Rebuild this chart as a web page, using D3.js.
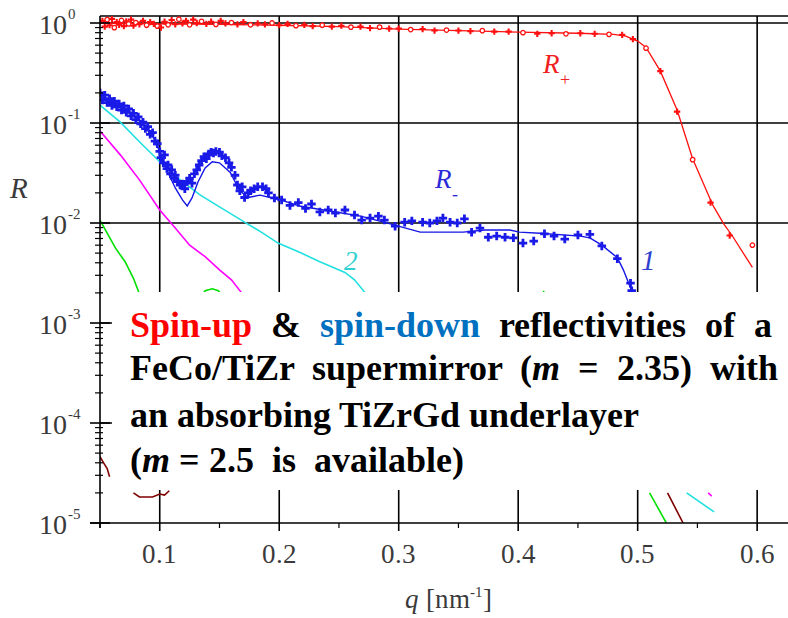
<!DOCTYPE html>
<meta charset="utf-8">
<style>
@font-face { font-family: "CapSerif"; src: local("Liberation Serif"), local("LiberationSerif"), local("Liberation Serif Regular"); font-weight: normal; font-style: normal; }
@font-face { font-family: "CapSerif"; src: local("Liberation Serif Bold"), local("LiberationSerif-Bold"); font-weight: bold; font-style: normal; }
@font-face { font-family: "CapSerif"; src: local("Liberation Serif Italic"), local("LiberationSerif-Italic"); font-weight: normal; font-style: italic; }
@font-face { font-family: "CapSerif"; src: local("Liberation Serif Bold Italic"), local("LiberationSerif-BoldItalic"); font-weight: bold; font-style: italic; }
body { margin: 0; }
</style>
<svg width="788" height="618"></svg>
<script src="https://d3js.org/d3.v7.min.js"></script>
<script>
// axis ticks
var xTicks = [0.1, 0.2, 0.3, 0.4, 0.5, 0.6];
var xMinor = [0.05, 0.15, 0.25, 0.35, 0.45, 0.55];
var decades = [0, -1, -2, -3, -4, -5];

// R+ measured points [q, R]
var redData = [
  [0.052,1.05],[0.054,0.92],[0.056,1.08],[0.058,0.95],[0.060,1.10],[0.062,0.90],[0.064,1.02],[0.066,0.96],
  [0.068,1.06],[0.070,0.93],[0.072,1.04],[0.074,0.98],[0.076,1.08],[0.078,0.94],[0.080,1.01],[0.083,0.97],
  [0.086,1.05],[0.089,0.95],[0.092,1.02],[0.095,0.98],[0.098,0.93],[0.101,0.90],[0.104,1.03],[0.107,0.96],
  [0.110,1.07],[0.113,0.97],[0.116,1.09],[0.119,0.99],[0.122,1.05],[0.125,0.96],[0.128,1.08],[0.131,1.00],
  [0.135,1.04],[0.139,0.98],[0.143,1.03],[0.147,0.97],[0.151,1.05],[0.155,0.99],[0.160,1.01],[0.165,0.97],
  [0.170,1.02],[0.176,0.96],[0.182,0.99],[0.188,0.97],[0.194,1.00],[0.200,0.95],[0.207,0.98],[0.214,0.94],
  [0.221,0.96],[0.228,0.93],[0.236,0.95],[0.244,0.92],[0.252,0.94],[0.260,0.91],[0.268,0.92],[0.276,0.89],
  [0.284,0.91],[0.292,0.88],[0.300,0.88],[0.310,0.86],[0.320,0.87],[0.330,0.84],[0.340,0.85],[0.350,0.84],
  [0.360,0.83],[0.370,0.84],[0.380,0.82],[0.392,0.82],[0.404,0.80],[0.416,0.78],[0.428,0.79],[0.440,0.78],
  [0.452,0.79],[0.464,0.78],[0.476,0.77],[0.487,0.76],[0.496,0.69],[0.507,0.56],[0.519,0.33],[0.533,0.13],
  [0.546,0.043],[0.561,0.016],[0.577,0.0075],[0.596,0.006]
];
// R+ fit
var redFit = [
  [0.05,1.0],[0.1,0.98],[0.15,0.97],[0.2,0.95],[0.25,0.92],[0.3,0.87],[0.35,0.84],[0.4,0.81],[0.45,0.79],
  [0.48,0.77],[0.49,0.74],[0.5,0.66],[0.507,0.57],[0.519,0.33],[0.533,0.135],[0.546,0.044],[0.563,0.015],
  [0.572,0.0098],[0.579,0.0075],[0.596,0.0036]
];
// R- measured points
var blueData = [
  [0.050,0.20],[0.052,0.17],[0.054,0.19],[0.056,0.16],[0.058,0.175],[0.060,0.15],[0.062,0.165],[0.064,0.145],
  [0.066,0.155],[0.068,0.135],[0.070,0.148],[0.072,0.128],[0.074,0.138],[0.076,0.118],[0.078,0.125],[0.080,0.108],
  [0.082,0.115],[0.084,0.098],[0.086,0.102],[0.088,0.088],[0.090,0.092],[0.092,0.077],[0.094,0.080],[0.096,0.066],
  [0.098,0.062],[0.100,0.052],[0.101,0.045],[0.103,0.040],[0.104,0.048],[0.106,0.035],[0.107,0.038],[0.109,0.031],
  [0.110,0.034],[0.112,0.028],[0.113,0.030],[0.115,0.026],[0.117,0.024],[0.119,0.0245],[0.121,0.022],[0.123,0.026],
  [0.125,0.028],[0.127,0.025],[0.129,0.031],[0.131,0.034],[0.133,0.038],[0.135,0.042],[0.137,0.046],[0.139,0.044],
  [0.141,0.049],[0.143,0.051],[0.145,0.050],[0.147,0.052],[0.150,0.051],[0.152,0.047],[0.155,0.045],[0.158,0.040],
  [0.160,0.036],[0.163,0.030],[0.165,0.024],[0.167,0.021],[0.169,0.023],[0.171,0.018],[0.174,0.020],[0.176,0.021],
  [0.179,0.022],[0.182,0.023],[0.186,0.023],[0.189,0.022],[0.191,0.020],[0.196,0.0178],[0.202,0.017],[0.209,0.015],
  [0.216,0.016],[0.222,0.014],[0.227,0.0155],[0.234,0.0129],[0.241,0.0135],[0.247,0.0126],[0.255,0.0135],[0.263,0.012],
  [0.269,0.0107],[0.276,0.0112],[0.283,0.0117],[0.288,0.0107],[0.297,0.0093],[0.305,0.0102],[0.311,0.0105],[0.320,0.0102],
  [0.326,0.0100],[0.332,0.0105],[0.337,0.0112],[0.343,0.0102],[0.349,0.0100],[0.355,0.0110],[0.361,0.0081],[0.368,0.0089],
  [0.375,0.0072],[0.382,0.0074],[0.389,0.0072],[0.396,0.0071],[0.404,0.0063],[0.413,0.0066],[0.422,0.0078],[0.430,0.0074],
  [0.439,0.0069],[0.450,0.0076],[0.460,0.0077],[0.470,0.0059],[0.483,0.0044],[0.494,0.0025],[0.495,0.0021]
];
// R- fit
var blueFit = [
  [0.05,0.186],[0.067,0.151],[0.083,0.107],[0.096,0.068],[0.104,0.038],[0.113,0.0224],[0.119,0.017],[0.123,0.0148],
  [0.127,0.0178],[0.132,0.0257],[0.138,0.0355],[0.144,0.041],[0.150,0.040],[0.159,0.032],[0.167,0.021],[0.174,0.018],
  [0.184,0.019],[0.201,0.017],[0.217,0.0148],[0.242,0.0132],[0.268,0.0117],[0.293,0.0098],[0.318,0.0081],[0.354,0.0081],
  [0.372,0.0085],[0.393,0.0085],[0.401,0.0081],[0.418,0.0079],[0.452,0.0074],[0.460,0.0071],[0.470,0.006],[0.483,0.0045],
  [0.488,0.0034],[0.495,0.0021],[0.499,0.0015]
];
// other curves (null = gap where hidden)
var cyanCurve = [
  [0.05,0.151],[0.067,0.102],[0.083,0.065],[0.100,0.041],[0.117,0.027],[0.134,0.019],[0.150,0.0145],[0.171,0.0102],
  [0.185,0.0081],[0.199,0.0063],[0.217,0.0051],[0.234,0.0041],[0.255,0.0032],[0.263,0.0027],[0.272,0.002],[0.278,0.0018],
  null,[0.541,2.0e-5],[0.564,1.29e-5]
];
var magentaCurve = [
  [0.05,0.083],[0.067,0.048],[0.083,0.027],[0.100,0.0135],[0.113,0.0089],[0.125,0.0060],[0.138,0.0046],[0.150,0.0034],
  [0.160,0.0027],[0.170,0.0019],
  null,[0.559,2.0e-5],[0.562,1.86e-5]
];
var greenCurve = [
  [0.05,0.0107],[0.056,0.0079],[0.063,0.0056],[0.071,0.0041],[0.078,0.0028],[0.082,0.0021],[0.084,0.0018],
  null,[0.132,0.0017],[0.138,0.0021],[0.144,0.0022],[0.149,0.0021],[0.152,0.0019],
  null,[0.421,0.0021],[0.423,0.0019],
  null,[0.510,2.0e-5],[0.524,1.0e-5]
];
var brownCurve = [
  [0.05,4.6e-5],[0.053,4.0e-5],[0.056,3.5e-5],[0.058,2.9e-5],
  null,[0.078,2.0e-5],[0.083,1.82e-5],[0.094,1.82e-5],[0.100,1.95e-5],[0.104,1.9e-5],[0.108,2.1e-5],
  null,[0.525,2.0e-5],[0.538,1.0e-5]
];

var FONT = "CapSerif, 'Liberation Serif', 'Times New Roman', serif";

var svg = d3.select("svg");

var x = d3.scaleLinear().domain([0.05, 0.63]).range([100, 793]),
    y = d3.scaleLog().domain([1e-5, Math.pow(10, 0.07)]).range([523, 16]);

var line = d3.line()
    .defined(function(d) { return d !== null; })
    .x(function(d) { return x(d[0]); })
    .y(function(d) { return y(d[1]); });

svg.append("clipPath").attr("id", "plot")
  .append("rect").attr("x", 100).attr("y", 16).attr("width", 700).attr("height", 507);

function blackLine(sel, w) {
  return sel.attr("stroke", "#000").attr("stroke-width", w || 1.6);
}

// grid
var grid = svg.append("g");
blackLine(grid.selectAll(".h").data(decades.slice(0, 5)).enter().append("line"))
    .attr("x1", 100).attr("x2", 788)
    .attr("y1", function(d) { return y(Math.pow(10, d)); })
    .attr("y2", function(d) { return y(Math.pow(10, d)); });
blackLine(grid.selectAll(".v").data(xTicks).enter().append("line"))
    .attr("x1", function(d) { return x(d); }).attr("x2", function(d) { return x(d); })
    .attr("y1", y.range()[1]).attr("y2", y.range()[0]);
blackLine(grid.append("line")).attr("x1", 100).attr("x2", 788).attr("y1", 16).attr("y2", 16);

// curves
var plot = svg.append("g").attr("clip-path", "url(#plot)");
[[greenCurve, "#00e000"], [brownCurve, "#800000"], [magentaCurve, "#ff00ff"], [cyanCurve, "#22e0e0"]]
  .forEach(function(c) {
    plot.append("path").attr("fill", "none").attr("stroke-width", 1.6).attr("stroke", c[1]).attr("d", line(c[0]));
  });

plot.append("path").attr("fill", "none").attr("stroke", "#1515e6").attr("stroke-width", 1.4).attr("d", line(blueFit));
plot.selectAll(".bpt").data(blueData)
  .enter().append("path")
    .attr("transform", function(d) { return "translate(" + x(d[0]) + "," + y(d[1]) + ")"; })
    .attr("d", d3.symbol(d3.symbolCross, 40))
    .attr("fill", "#1a1ae8");

plot.append("path").attr("fill", "none").attr("stroke", "#ff1010").attr("stroke-width", 1.3).attr("d", line(redFit));
plot.selectAll(".rpt").data(redData)
  .enter().append("path")
    .attr("transform", function(d) { return "translate(" + x(d[0]) + "," + y(d[1]) + ")"; })
    .attr("d", function(d, i) { return d3.symbol(i % 3 == 2 ? d3.symbolCircle : d3.symbolCross, i % 3 == 2 ? 16 : 22)(); })
    .attr("fill", function(d, i) { return i % 3 == 2 ? "#fff" : "#ff1010"; })
    .attr("stroke", "#ff1010")
    .attr("stroke-width", function(d, i) { return i % 3 == 2 ? 1.3 : 0; });

// caption box
svg.append("rect").attr("x", 112).attr("y", 292).attr("width", 690).attr("height", 198).attr("fill", "#fff");

// word spacing fixed for the justified lines
var captionLines = [
  {y: 337, ws: 10, parts: [["Spin-up", "#ff0000"], [" & ", "#000"], ["spin-down", "#0070c0"], [" reflectivities of a", "#000"]]},
  {y: 380, ws: 9, parts: [["FeCo/TiZr supermirror (", "#000"], ["m", "#000", true], [" = 2.35) with", "#000"]]},
  {y: 427, ws: 0, parts: [["an absorbing TiZrGd underlayer", "#000"]]},
  {y: 472, ws: 0, parts: [["(", "#000"], ["m", "#000", true], [" = 2.5\u00a0\u00a0is\u00a0\u00a0available)", "#000"]]}
];
captionLines.forEach(function(l) {
  var t = svg.append("text").attr("x", 130).attr("y", l.y)
    .style("font-family", FONT).style("font-weight", "bold").style("font-size", "36px")
    .attr("word-spacing", l.ws);
  l.parts.forEach(function(p) {
    t.append("tspan").attr("fill", p[1]).style("font-style", p[2] ? "italic" : null).text(p[0]);
  });
});

// axes
var ax = svg.append("g");
blackLine(ax.append("line")).attr("x1", 100).attr("x2", 100).attr("y1", 16).attr("y2", 528);
blackLine(ax.append("line")).attr("x1", 90).attr("x2", 788).attr("y1", 523).attr("y2", 523);
blackLine(ax.selectAll(".mj").data(decades).enter().append("line"))
    .attr("x1", 90).attr("x2", 110)
    .attr("y1", function(d) { return y(Math.pow(10, d)); })
    .attr("y2", function(d) { return y(Math.pow(10, d)); });
var minorY = [];
decades.slice(1).forEach(function(d) {
  for (var k = 2; k < 10; k++) minorY.push(k * Math.pow(10, d));
});
blackLine(ax.selectAll(".mn").data(minorY).enter().append("line"), 1.2)
    .attr("x1", 95).attr("x2", 103)
    .attr("y1", function(d) { return y(d); })
    .attr("y2", function(d) { return y(d); });
blackLine(ax.selectAll(".xmj").data(xTicks).enter().append("line"))
    .attr("x1", function(d) { return x(d); }).attr("x2", function(d) { return x(d); })
    .attr("y1", 523).attr("y2", 531);
blackLine(ax.selectAll(".xmn").data(xMinor).enter().append("line"), 1.2)
    .attr("x1", function(d) { return x(d); }).attr("x2", function(d) { return x(d); })
    .attr("y1", 523).attr("y2", 528);

// tick labels
function serifText(sel, size) {
  return sel.style("font-family", FONT).style("font-size", size + "px").attr("fill", "#3a3a3a");
}
var yl = svg.append("g");
decades.forEach(function(d) {
  var yy = y(Math.pow(10, d));
  serifText(yl.append("text"), 28).attr("x", 67).attr("y", yy + 11).attr("text-anchor", "end").text("10");
  serifText(yl.append("text"), 15).attr("x", 68).attr("y", yy - 4).text(d == 0 ? "0" : "-" + (-d));
});
serifText(yl.selectAll(".xl").data(xTicks).enter().append("text"), 27)
    .attr("x", function(d) { return x(d); })
    .attr("y", 563)
    .attr("text-anchor", "middle")
    .text(function(d) { return d3.format(".1f")(d); });

// axis titles
var xt = serifText(svg.append("text"), 27).attr("x", 405).attr("y", 608);
xt.append("tspan").style("font-style", "italic").text("q");
xt.append("tspan").text(" [nm");
xt.append("tspan").attr("dy", -11).style("font-size", "15px").text("-1");
xt.append("tspan").attr("dy", 11).text("]");

serifText(svg.append("text"), 29).attr("x", 10).attr("y", 198).style("font-style", "italic").text("R");

// curve labels
function label(px, py, main, sub, color, size) {
  var t = serifText(svg.append("text"), size).attr("x", px).attr("y", py).attr("fill", color);
  t.append("tspan").style("font-style", "italic").text(main);
  if (sub) t.append("tspan").attr("dy", 12).style("font-size", "18px").text(sub);
}
label(543, 73, "R", "+", "#f02020", 27);
label(435, 188, "R", "-", "#2a2ad8", 27);
label(641, 270, "1", null, "#3040d0", 29);
label(344, 270, "2", null, "#30d0d0", 27);
</script>
